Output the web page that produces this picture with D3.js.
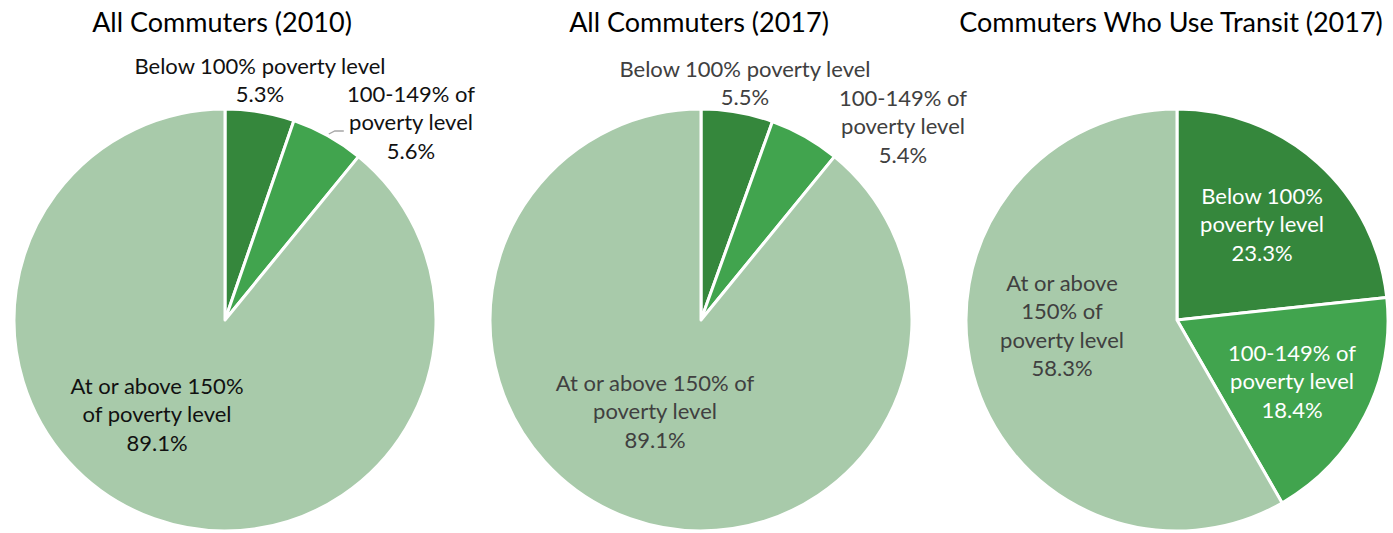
<!DOCTYPE html>
<html>
<head>
<meta charset="utf-8">
<script src="https://cdn.jsdelivr.net/npm/d3@7"></script>
<style>
  html, body { margin: 0; padding: 0; background: #fff; }
  svg { display: block; }
  text { font-family: Lato, "Open Sans", sans-serif; }
</style>
</head>
<body>
<svg id="chart" width="1393" height="533"></svg>
<script>
// ---- Data ----
const categories = ["Below 100% poverty level", "100-149% of poverty level", "At or above 150% of poverty level"];
const chartTitles = ["All Commuters (2010)", "All Commuters (2017)", "Commuters Who Use Transit (2017)"];
const values2010 = [5.3, 5.6, 89.1];
const values2017 = [5.5, 5.4, 89.1];
const valuesTransit = [23.3, 18.4, 58.3];

// label line breaks per chart (text only)
const labelLines2010 = [["Below 100% poverty level"], ["100-149% of", "poverty level"], ["At or above 150%", "of poverty level"]];
const labelLines2017 = [["Below 100% poverty level"], ["100-149% of", "poverty level"], ["At or above 150% of", "poverty level"]];
const labelLinesTransit = [["Below 100%", "poverty level"], ["100-149% of", "poverty level"], ["At or above", "150% of", "poverty level"]];

// ---- Layout / style ----
const colors = ["#35873c", "#41a44e", "#a8caaa"];
const svg = d3.select("#chart");
const R = 211, CY = 320;
const lineH = 28.5;

const charts = [
  { title: chartTitles[0], values: values2010, lines: labelLines2010, cx: 225, tx: 222,
    textColor: ["#111", "#111", "#111"],
    pos: [[35, -255], [186, -227], [-68, 65]], leader: true },
  { title: chartTitles[1], values: values2017, lines: labelLines2017, cx: 701, tx: 699,
    textColor: ["#404040", "#404040", "#404040"],
    pos: [[44, -252], [202, -223], [-46, 62]], leader: false },
  { title: chartTitles[2], values: valuesTransit, lines: labelLinesTransit, cx: 1177, tx: 1171,
    textColor: ["#ffffff", "#ffffff", "#404040"],
    pos: [[85, -125], [115, 32], [-115, -38]], leader: false }
];

const pie = d3.pie().sort(null).value(d => d);
const arc = d3.arc().innerRadius(0).outerRadius(R);

charts.forEach(c => {
  const g = svg.append("g").attr("transform", `translate(${c.cx},${CY})`);
  const arcs = pie(c.values);
  g.selectAll("path").data(arcs).join("path")
    .attr("d", arc)
    .attr("fill", (d, i) => colors[i])
    .attr("stroke", "#fff")
    .attr("stroke-width", 3)
    .attr("stroke-linejoin", "round");

  svg.append("text")
    .attr("x", c.tx).attr("y", 21)
    .attr("text-anchor", "middle")
    .attr("dominant-baseline", "central")
    .attr("font-size", 27)
    .attr("fill", "#000")
    .text(c.title);

  if (c.leader) {
    // short leader line for the 100-149% label
    const mid = (arcs[1].startAngle + arcs[1].endAngle) / 2;
    const px = Math.sin(mid) * (R + 2), py = -Math.cos(mid) * (R + 2);
    g.append("path")
      .attr("d", `M${px},${py} L${px + 6},${py - 3} L${px + 15},${py - 3}`)
      .attr("fill", "none").attr("stroke", "#a6a6a6").attr("stroke-width", 1.3);
  }

  arcs.forEach((a, i) => {
    const lines = c.lines[i].concat([d3.format(".1f")(c.values[i]) + "%"]);
    const t = g.append("text")
      .attr("text-anchor", "middle")
      .attr("font-size", 22)
      .attr("fill", c.textColor[i]);
    lines.forEach((ln, k) => {
      t.append("tspan")
        .attr("x", c.pos[i][0])
        .attr("y", c.pos[i][1] + k * lineH)
        .attr("dominant-baseline", "central")
        .text(ln);
    });
  });
});
</script>
</body>
</html>
